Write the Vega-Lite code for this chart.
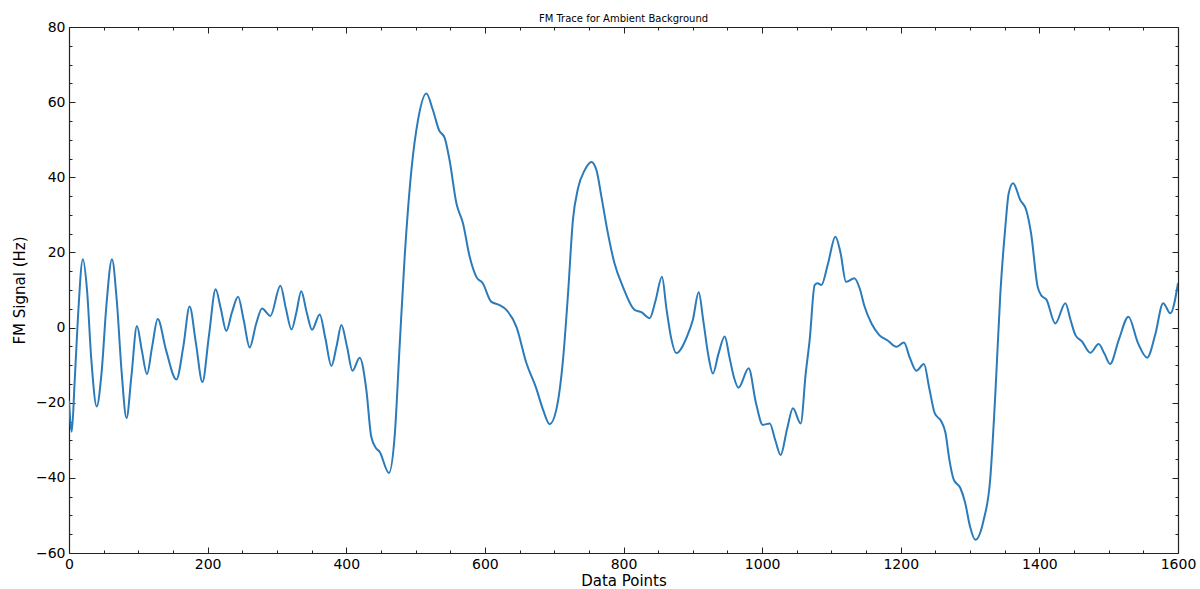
{
  "$schema": "https://vega.github.io/schema/vega-lite/v6.json",
  "autosize": {"type": "none"},
  "padding": {"left": 69, "top": 27, "right": 22, "bottom": 36},
  "width": 1109,
  "height": 526,
  "title": {"text": "FM Trace for Ambient Background", "fontSize": 10, "font": "DejaVu Sans", "fontWeight": "normal", "color": "#000", "offset": -4},
  "config": {
    "view": {"stroke": null},
    "axis": {"domainColor": "#222", "domainWidth": 1.2, "tickColor": "#222", "tickWidth": 1, "labelFont": "DejaVu Sans", "labelFontSize": 14, "labelColor": "#000", "titleFont": "DejaVu Sans", "titleFontSize": 15, "titleFontWeight": "normal", "titleColor": "#000", "grid": false}
  },
  "data": {"values": [
    {"x":0,"y":-19.5},{"x":4,"y":-27.7},{"x":8,"y":-15},{"x":13,"y":3},{"x":20,"y":18.2},{"x":26,"y":10},{"x":32,"y":-8},{"x":40,"y":-21},{"x":47,"y":-12},{"x":54,"y":6},{"x":62,"y":18.2},{"x":69,"y":7},{"x":76,"y":-12},{"x":83,"y":-24.1},{"x":90,"y":-13},{"x":98,"y":0.4},{"x":105,"y":-6},{"x":112.5,"y":-12.4},{"x":120,"y":-5},{"x":128,"y":2.3},{"x":140,"y":-6},{"x":155,"y":-13.8},{"x":165,"y":-5},{"x":174,"y":5.6},{"x":183,"y":-4},{"x":192.5,"y":-14.5},{"x":202,"y":-2},{"x":211.6,"y":10.2},{"x":219,"y":5},{"x":227,"y":-0.9},{"x":235,"y":4},{"x":244,"y":8.2},{"x":252,"y":2},{"x":260.7,"y":-5.3},{"x":270,"y":1},{"x":278.5,"y":5.1},{"x":290.5,"y":3.1},{"x":305,"y":11.1},{"x":313,"y":5},{"x":321,"y":-0.5},{"x":328,"y":4},{"x":335,"y":9.7},{"x":343,"y":4},{"x":350.6,"y":-0.6},{"x":361.7,"y":3.5},{"x":370,"y":-3},{"x":378.5,"y":-10.2},{"x":386,"y":-5},{"x":393,"y":0.7},{"x":401,"y":-5},{"x":409,"y":-11.5},{"x":419.4,"y":-8.0},{"x":429,"y":-16.6},{"x":436,"y":-29},{"x":443,"y":-32.1},{"x":448,"y":-33},{"x":461.5,"y":-38.7},{"x":470,"y":-28.5},{"x":477,"y":-5},{"x":484,"y":18},{"x":494,"y":41.9},{"x":503.5,"y":55.2},{"x":515.6,"y":62.3},{"x":525,"y":57.9},{"x":534,"y":52.5},{"x":542,"y":50.5},{"x":549,"y":44.6},{"x":559,"y":33},{"x":568.5,"y":27.7},{"x":578,"y":18.9},{"x":587.7,"y":13.5},{"x":597,"y":11.8},{"x":609,"y":6.9},{"x":621,"y":6.0},{"x":631,"y":4.7},{"x":645.5,"y":0.2},{"x":660,"y":-9.5},{"x":674,"y":-16.1},{"x":684,"y":-21.9},{"x":693.5,"y":-25.7},{"x":703,"y":-21.9},{"x":712.7,"y":-8.6},{"x":720,"y":9.1},{"x":727,"y":28.6},{"x":734.3,"y":37},{"x":744,"y":41.9},{"x":753.7,"y":44.1},{"x":761,"y":41.9},{"x":768,"y":35},{"x":777.6,"y":25},{"x":787,"y":17.1},{"x":799,"y":10.9},{"x":816,"y":4.7},{"x":825.8,"y":4.1},{"x":837.8,"y":2.5},{"x":846,"y":7},{"x":855.5,"y":13.5},{"x":862,"y":5},{"x":869,"y":-3},{"x":876,"y":-6.8},{"x":891.6,"y":-2.4},{"x":900,"y":2},{"x":908.5,"y":9.4},{"x":915,"y":2},{"x":922,"y":-7},{"x":929,"y":-12.2},{"x":937,"y":-7},{"x":946,"y":-2.4},{"x":953,"y":-8},{"x":959,"y":-13},{"x":966,"y":-16},{"x":980.6,"y":-10.8},{"x":991,"y":-20},{"x":1001,"y":-25.9},{"x":1011,"y":-25.5},{"x":1019,"y":-30},{"x":1026.7,"y":-33.9},{"x":1036,"y":-27},{"x":1044.5,"y":-21.5},{"x":1055.6,"y":-25.5},{"x":1063,"y":-12},{"x":1068.6,"y":-3.3},{"x":1075.8,"y":11.3},{"x":1080,"y":11.8},{"x":1085.5,"y":11.3},{"x":1095,"y":17},{"x":1105.7,"y":24.2},{"x":1113,"y":20},{"x":1121,"y":12.2},{"x":1133,"y":13.1},{"x":1140.8,"y":10.4},{"x":1147.8,"y":5.6},{"x":1158,"y":1},{"x":1169,"y":-2.0},{"x":1181.6,"y":-3.5},{"x":1193.6,"y":-5.1},{"x":1204.6,"y":-4.0},{"x":1213,"y":-8},{"x":1222.5,"y":-11.5},{"x":1233.5,"y":-9.7},{"x":1241,"y":-16},{"x":1249,"y":-22.8},{"x":1258.6,"y":-25},{"x":1264.5,"y":-28},{"x":1270,"y":-35},{"x":1276.5,"y":-40.5},{"x":1286,"y":-42.7},{"x":1293,"y":-46.7},{"x":1300,"y":-53},{"x":1307.6,"y":-56.5},{"x":1319.6,"y":-51.2},{"x":1329,"y":-40.5},{"x":1336.5,"y":-17.5},{"x":1343.7,"y":9.1},{"x":1350.9,"y":26.8},{"x":1355.7,"y":35.7},{"x":1362,"y":38.4},{"x":1372.6,"y":33.9},{"x":1381,"y":31.3},{"x":1388,"y":25.1},{"x":1397.5,"y":10.9},{"x":1403,"y":8.5},{"x":1410,"y":7.5},{"x":1423,"y":1.1},{"x":1437.5,"y":6.5},{"x":1445,"y":2},{"x":1452,"y":-2.0},{"x":1461.5,"y":-3.7},{"x":1473.5,"y":-6.7},{"x":1485.5,"y":-4.4},{"x":1494,"y":-7},{"x":1502,"y":-9.7},{"x":1515,"y":-3},{"x":1528.5,"y":2.9},{"x":1542,"y":-4},{"x":1555.5,"y":-8.0},{"x":1567,"y":-2},{"x":1578.6,"y":6.5},{"x":1589,"y":3.8},{"x":1600,"y":11.8}
  ]},
  "resolve": {"axis": {"x": "independent", "y": "independent"}},
  "layer": [
    {
      "mark": {"type": "line", "color": "#2b7bba", "strokeWidth": 2, "interpolate": "monotone", "clip": true},
      "encoding": {
        "x": {"field": "x", "type": "quantitative", "scale": {"domain": [0, 1600], "nice": false, "zero": false},
              "axis": {"orient": "bottom", "title": "Data Points", "values": [0,200,400,600,800,1000,1200,1400,1600], "format": "d", "tickSize": -6, "labelPadding": 10, "titlePadding": 2, "labelFlush": false, "labelOverlap": false}},
        "y": {"field": "y", "type": "quantitative", "scale": {"domain": [-60, 80], "nice": false, "zero": false},
              "axis": {"orient": "left", "title": "FM Signal (Hz)", "values": [-60,-40,-20,0,20,40,60,80], "format": "d", "tickSize": -6, "labelPadding": 10, "titlePadding": 8, "labelFlush": false, "labelOverlap": false}}
      }
    },
    {
      "mark": {"type": "line", "opacity": 0},
      "encoding": {
        "x": {"field": "x", "type": "quantitative", "axis": {"orient": "top", "title": null, "labels": false, "values": [0,200,400,600,800,1000,1200,1400,1600], "tickSize": -6}},
        "y": {"field": "y", "type": "quantitative", "axis": {"orient": "right", "title": null, "labels": false, "values": [-60,-40,-20,0,20,40,60,80], "tickSize": -6}}
      }
    },
    {
      "mark": {"type": "line", "opacity": 0},
      "encoding": {
        "x": {"field": "x", "type": "quantitative", "axis": {"orient": "bottom", "title": null, "labels": false, "domain": false, "values": [50,100,150,250,300,350,450,500,550,650,700,750,850,900,950,1050,1100,1150,1250,1300,1350,1450,1500,1550], "tickSize": -3}},
        "y": {"field": "y", "type": "quantitative", "axis": {"orient": "left", "title": null, "labels": false, "domain": false, "values": [-55,-50,-45,-35,-30,-25,-15,-10,-5,5,10,15,25,30,35,45,50,55,65,70,75], "tickSize": -3}}
      }
    },
    {
      "mark": {"type": "line", "opacity": 0},
      "encoding": {
        "x": {"field": "x", "type": "quantitative", "axis": {"orient": "top", "title": null, "labels": false, "domain": false, "values": [50,100,150,250,300,350,450,500,550,650,700,750,850,900,950,1050,1100,1150,1250,1300,1350,1450,1500,1550], "tickSize": -3}},
        "y": {"field": "y", "type": "quantitative", "axis": {"orient": "right", "title": null, "labels": false, "domain": false, "values": [-55,-50,-45,-35,-30,-25,-15,-10,-5,5,10,15,25,30,35,45,50,55,65,70,75], "tickSize": -3}}
      }
    }
  ]
}
